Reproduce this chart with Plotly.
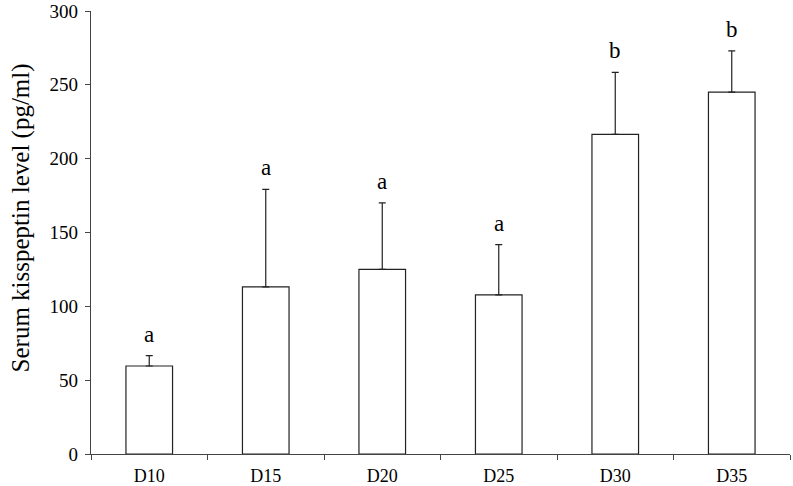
import plotly.graph_objects as go

categories = ["D10", "D15", "D20", "D25", "D30", "D35"]
means = [59.6, 113.2, 125.0, 107.8, 216.5, 245.0]
errors_up = [7.0, 66.0, 45.0, 34.0, 42.0, 28.0]
letters = ["a", "a", "a", "a", "b", "b"]
y_title = "Serum kisspeptin level (pg/ml)"

font_family = "Liberation Serif, Times New Roman, serif"

fig = go.Figure()
fig.add_trace(go.Bar(
    x=categories, y=means, width=0.4,
    marker=dict(color="white", line=dict(color="#222222", width=1.2)),
    error_y=dict(type="data", symmetric=False, array=errors_up, arrayminus=[0]*len(means),
                 color="#222222", thickness=1.2, width=3.5),
    showlegend=False,
))

for c, m, e, l in zip(categories, means, errors_up, letters):
    fig.add_annotation(x=c, y=m + e, text=l, showarrow=False, yanchor="bottom", yshift=7,
                       font=dict(family=font_family, size=23, color="black"))

fig.add_annotation(xref="paper", yref="paper", x=-0.1, y=0.532, text=y_title, textangle=-90,
                   showarrow=False, xanchor="center", yanchor="middle",
                   font=dict(family=font_family, size=25, color="black"))

fig.update_layout(
    width=793, height=486,
    margin=dict(l=91, r=3, t=11, b=32),
    plot_bgcolor="white", paper_bgcolor="white",
    font=dict(family=font_family, color="black"),
    bargap=0.6,
)
fig.update_xaxes(
    type="category", range=[-0.5, 5.5], showline=True, linecolor="#444444", linewidth=1.2,
    ticks="outside", tickson="boundaries", ticklen=5, tickcolor="#444444",
    tickfont=dict(size=18, family=font_family), showgrid=False, zeroline=False,
    automargin=False, ticklabelstandoff=5,
)
fig.update_yaxes(
    range=[0, 300], tickmode="linear", tick0=0, dtick=50, showline=True,
    linecolor="#444444", linewidth=1.2,
    ticks="outside", ticklen=5, tickcolor="#444444",
    tickfont=dict(size=19, family=font_family), showgrid=False, zeroline=False,
    automargin=False, ticklabeloverflow="allow", ticklabelstandoff=3,
)

fig.write_html("out.html", config={"displayModeBar": False})

with open("out.html", "r", encoding="utf-8") as f:
    html = f.read()
html = html.replace("<head>", "<head><style>html,body{margin:0;padding:0;overflow:hidden;}</style>", 1)
with open("out.html", "w", encoding="utf-8") as f:
    f.write(html)
